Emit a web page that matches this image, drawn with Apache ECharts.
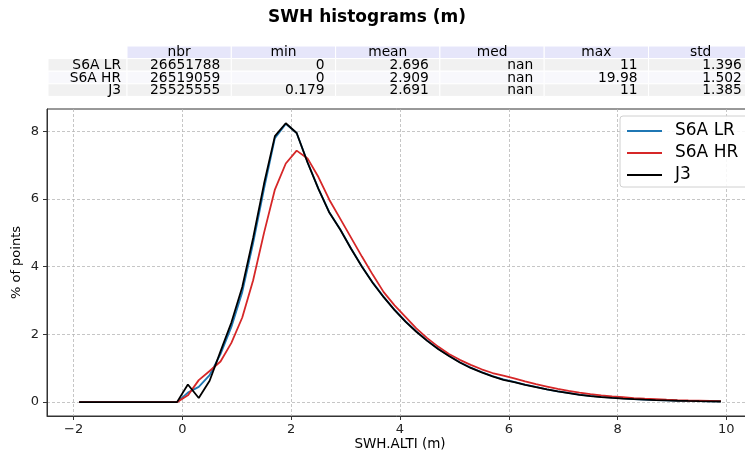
<!DOCTYPE html>
<html>
<head>
<meta charset="utf-8">
<script src="https://cdn.jsdelivr.net/npm/echarts@6/dist/echarts.min.js"></script>
<style>html,body{margin:0;padding:0;background:#fff;}#c{width:745px;height:457px;}</style>
</head>
<body>
<div id="c"></div>
<script>
// ---- data ----
const xBins = [-1.9,-1.7,-1.5,-1.3,-1.1,-0.9,-0.7,-0.5,-0.3,-0.1,
  0.1,0.3,0.5,0.7,0.9,1.1,1.3,1.5,1.7,1.9,
  2.1,2.3,2.5,2.7,2.9,3.1,3.3,3.5,3.7,3.9,
  4.1,4.3,4.5,4.7,4.9,5.1,5.3,5.5,5.7,5.9,
  6.1,6.3,6.5,6.7,6.9,7.1,7.3,7.5,7.7,7.9,
  8.1,8.3,8.5,8.7,8.9,9.1,9.3,9.5,9.7,9.9];
const s6aLR = [0,0,0,0,0,0,0,0,0,0,
  0.28,0.45,0.80,1.42,2.22,3.25,4.70,6.30,7.80,8.22,
  7.95,7.09,6.31,5.61,5.11,4.54,4.01,3.53,3.11,2.73,
  2.39,2.09,1.82,1.58,1.37,1.18,1.02,0.89,0.77,0.67,
  0.60,0.52,0.45,0.38,0.32,0.27,0.22,0.185,0.155,0.13,
  0.11,0.09,0.075,0.062,0.05,0.042,0.035,0.029,0.024,0.02];
const s6aHR = [0,0,0,0,0,0,0,0,0,0,
  0.20,0.65,0.92,1.20,1.75,2.50,3.60,5.00,6.28,7.05,
  7.43,7.20,6.65,5.98,5.42,4.86,4.30,3.76,3.25,2.86,
  2.52,2.18,1.89,1.64,1.42,1.25,1.10,0.97,0.86,0.78,
  0.70,0.61,0.53,0.46,0.39,0.33,0.28,0.235,0.20,0.17,
  0.145,0.12,0.10,0.085,0.07,0.058,0.048,0.04,0.033,0.027];
const j3 = [0,0,0,0,0,0,0,0,0,0,
  0.52,0.12,0.63,1.50,2.35,3.40,4.85,6.45,7.86,8.24,
  7.95,7.08,6.30,5.60,5.10,4.53,4.00,3.52,3.10,2.72,
  2.38,2.08,1.81,1.57,1.36,1.17,1.01,0.88,0.76,0.66,
  0.59,0.51,0.44,0.375,0.315,0.265,0.215,0.18,0.15,0.125,
  0.105,0.087,0.072,0.06,0.049,0.041,0.034,0.028,0.023,0.019];
const seriesNames = ['S6A LR','S6A HR','J3'];
const xTicks = [-2,0,2,4,6,8,10];
const yTicks = [0,2,4,6,8];

const tableCols = ['nbr','min','mean','med','max','std'];
const tableRows = ['S6A LR','S6A HR','J3'];
const tableData = [
  ['26651788','0','2.696','nan','11','1.396'],
  ['26519059','0','2.909','nan','19.98','1.502'],
  ['25525555','0.179','2.691','nan','11','1.385']
];

// ---- layout / style ----
const FONT = 'DejaVu Sans';
const colors = ['#1f77b4','#d62728','#000000'];
const seriesData = [s6aLR, s6aHR, j3];

function pairs(ys){ return xBins.map((x,i)=>[x, ys[i]]); }

// table graphic
const tbl = [];
const labelX0 = 48, labelW = 79, colX0 = 127, colW = 104.3;
const rowY0 = 46, rowH = 12.6;
const rowBg = ['#f1f1f1','#f8f8fc','#f1f1f1'];
const tFont = '13.8px "'+FONT+'"';
tableCols.forEach((c, j) => {
  const x = colX0 + j*colW;
  tbl.push({type:'rect', shape:{x:x, y:rowY0, width:colW, height:rowH},
    style:{fill:'#e6e6fa', stroke:'#ffffff', lineWidth:1}});
  tbl.push({type:'text', x:x+colW/2, y:rowY0+rowH/2+0.5,
    style:{text:c, font:tFont, fill:'#000', align:'center', verticalAlign:'middle'}, z:10});
});
tableRows.forEach((r, i) => {
  const y = rowY0 + (i+1)*rowH;
  tbl.push({type:'rect', shape:{x:labelX0, y:y, width:labelW, height:rowH},
    style:{fill:rowBg[i], stroke:'#ffffff', lineWidth:1}});
  tbl.push({type:'text', x:labelX0+labelW-6, y:y+rowH/2+0.5,
    style:{text:r, font:tFont, fill:'#000', align:'right', verticalAlign:'middle'}, z:10});
  tableData[i].forEach((v, j) => {
    const x = colX0 + j*colW;
    tbl.push({type:'rect', shape:{x:x, y:y, width:colW, height:rowH},
      style:{fill:rowBg[i], stroke:'#ffffff', lineWidth:1}});
    tbl.push({type:'text', x:x+colW-11, y:y+rowH/2+0.5,
      style:{text:v, font:tFont, fill:'#000', align:'right', verticalAlign:'middle'}, z:10});
  });
});

const chart = echarts.init(document.getElementById('c'), null, {renderer:'canvas'});
chart.setOption({
  animation:false,
  backgroundColor:'#ffffff',
  textStyle:{fontFamily:FONT},
  graphic:[
    {type:'text', x:367, y:18, style:{text:'SWH histograms (m)', font:'bold 17px "'+FONT+'"', fill:'#000', align:'center', verticalAlign:'middle'}},
    ...tbl
  ],
  grid:{left:47, top:109, width:706, height:307, show:true, borderColor:'#333', borderWidth:1,
    backgroundColor:'transparent', containLabel:false, outerBoundsMode:'none'},
  legend:{
    data:seriesNames, orient:'vertical', left:620, top:116,
    icon:'rect', itemWidth:35, itemHeight:2, itemGap:2,
    padding:[5,30,2,7],
    backgroundColor:'rgba(255,255,255,0.85)', borderColor:'#d0d0d0', borderWidth:1, borderRadius:3,
    textStyle:{fontSize:17, lineHeight:20, color:'#000', fontFamily:FONT, padding:[0,0,0,8]}
  },
  xAxis:{
    type:'value', min:-2.49, max:10.49,
    name:'SWH.ALTI (m)', nameLocation:'middle', nameGap:21, nameMoveOverlap:false,
    nameTextStyle:{fontSize:13.5, color:'#000', fontFamily:FONT},
    axisLine:{show:true, onZero:false, lineStyle:{color:'#333', width:1}},
    axisTick:{show:true, length:4, customValues:xTicks, lineStyle:{color:'#333', width:1}},
    axisLabel:{customValues:xTicks, fontSize:13, color:'#222', margin:7, fontFamily:FONT,
      formatter:v => (v<0 ? '\u2212'+Math.abs(v) : String(v))},
    splitLine:{show:true, lineStyle:{type:[3,2], color:'#b8b8b8', width:0.8}}
  },
  yAxis:{
    type:'value', min:-0.41, max:8.66,
    name:'% of points', nameLocation:'middle', nameGap:24, nameRotate:90, nameMoveOverlap:false,
    nameTextStyle:{fontSize:13, color:'#000', fontFamily:FONT},
    axisLine:{show:true, onZero:false, lineStyle:{color:'#333', width:1}},
    axisTick:{show:true, length:4, customValues:yTicks, lineStyle:{color:'#333', width:1}},
    axisLabel:{customValues:yTicks, fontSize:13, color:'#222', margin:8, fontFamily:FONT},
    splitLine:{show:true, lineStyle:{type:[3,2], color:'#b8b8b8', width:0.8}}
  },
  series: seriesNames.map((n,k)=>({
    name:n, type:'line', data:pairs(seriesData[k]), symbol:'none', showSymbol:false,
    smooth:false, clip:true, z:2+k,
    lineStyle:{color:colors[k], width:1.8}, itemStyle:{color:colors[k]}
  }))
});
</script>
</body>
</html>
